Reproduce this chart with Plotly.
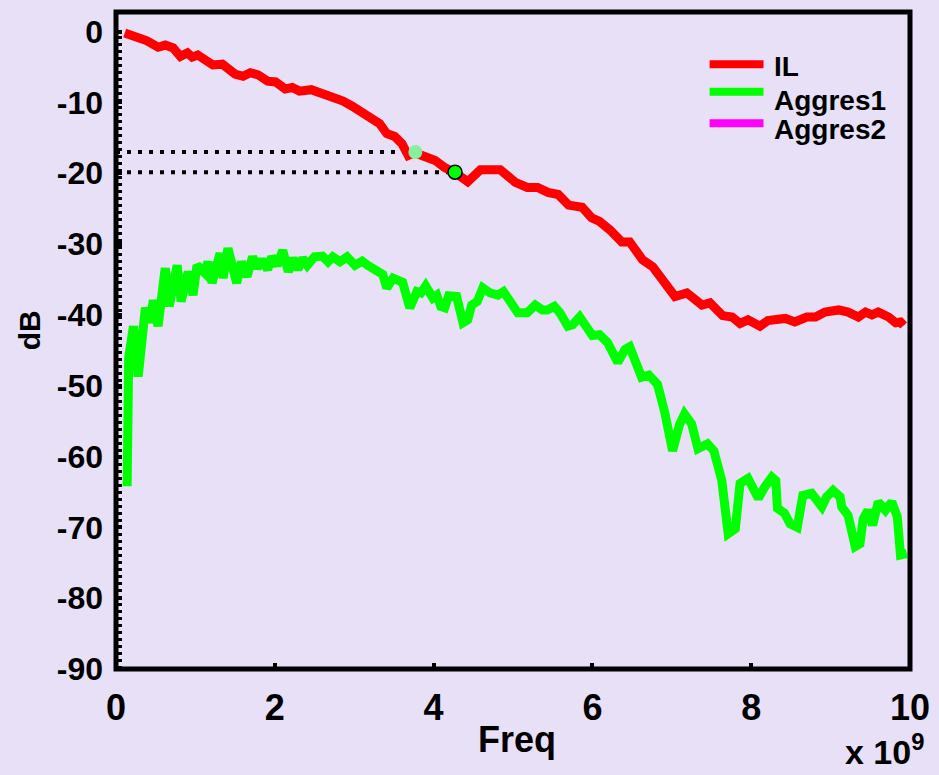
import plotly.graph_objects as go

# ---------------- data (frequency in units of 1e9 Hz, values in dB) ----------------
il_freq = [
    0.11, 0.24, 0.39, 0.53, 0.62, 0.72, 0.81, 0.90, 0.96, 1.03,
    1.12, 1.22, 1.34, 1.41, 1.50, 1.60, 1.69, 1.79, 1.91, 2.01,
    2.13, 2.22, 2.31, 2.46, 2.57, 2.72, 2.86, 2.97, 3.10, 3.22,
    3.32, 3.41, 3.51, 3.60, 3.68, 3.76, 3.87, 4.02, 4.14, 4.27,
    4.43, 4.59, 4.84, 5.03, 5.18, 5.31, 5.44, 5.57, 5.70, 5.87,
    5.99, 6.09, 6.22, 6.37, 6.47, 6.63, 6.76, 6.91, 7.04, 7.19,
    7.38, 7.48, 7.64, 7.76, 7.86, 7.96, 8.11, 8.21, 8.34, 8.43,
    8.55, 8.70, 8.81, 8.93, 9.10, 9.22, 9.35, 9.44, 9.52, 9.60,
    9.73, 9.82, 9.88, 9.92,
]
il_db = [
    -0.2, -0.6, -1.3, -2.2, -1.9, -2.3, -3.5, -3.0, -3.6, -3.3,
    -3.9, -4.7, -4.6, -5.1, -6.0, -6.3, -5.8, -6.1, -7.0, -7.1,
    -8.1, -7.9, -8.4, -8.2, -8.6, -9.4, -9.8, -10.5, -11.5, -12.5,
    -13.0, -14.4, -14.8, -15.8, -17.5, -17.1, -17.5, -18.2, -19.2, -19.9,
    -21.2, -19.5, -19.5, -21.3, -22.0, -22.0, -22.7, -23.0, -24.5, -24.8,
    -26.3, -26.8, -28.0, -29.7, -29.7, -32.2, -33.2, -35.7, -37.4, -36.9,
    -38.6, -38.3, -40.1, -40.3, -41.2, -40.7, -41.6, -40.8, -40.8, -40.5,
    -41.0, -40.3, -40.3, -39.6, -39.3, -39.6, -40.3, -39.6, -40.0, -39.6,
    -40.3, -41.1, -41.0, -41.5,
]

ag1_freq = [
    0.14, 0.16, 0.22, 0.28, 0.37, 0.43, 0.47, 0.53, 0.62, 0.67,
    0.77, 0.82, 0.91, 0.97, 1.02, 1.12, 1.16, 1.21, 1.31, 1.35,
    1.41, 1.52, 1.58, 1.65, 1.72, 1.78, 1.84, 1.91, 1.96, 2.03,
    2.10, 2.17, 2.23, 2.29, 2.35, 2.41, 2.50, 2.60, 2.67, 2.73,
    2.82, 2.91, 3.01, 3.10, 3.17, 3.30, 3.36, 3.41, 3.49, 3.61,
    3.70, 3.79, 3.84, 3.90, 3.99, 4.04, 4.09, 4.14, 4.19, 4.29,
    4.37, 4.43, 4.48, 4.55, 4.62, 4.71, 4.81, 4.88, 4.96, 5.06,
    5.18, 5.28, 5.37, 5.43, 5.52, 5.59, 5.69, 5.75, 5.84, 5.93,
    6.00, 6.09, 6.19, 6.32, 6.41, 6.47, 6.53, 6.62, 6.71,
    6.82, 6.91, 7.01, 7.10, 7.16, 7.25, 7.33, 7.45, 7.53, 7.63,
    7.71, 7.80, 7.86, 7.96, 8.09, 8.17, 8.26, 8.31, 8.33, 8.42,
    8.49, 8.58, 8.65, 8.76, 8.89, 8.95, 9.03, 9.12, 9.14, 9.22,
    9.31, 9.37, 9.41, 9.47, 9.53, 9.60, 9.69, 9.77, 9.84, 9.88,
    9.96,
]
ag1_db = [
    -64.2, -46.0, -41.6, -48.7, -39.0, -41.1, -37.9, -41.6, -33.4, -38.8,
    -33.0, -38.1, -33.9, -37.2, -33.0, -34.1, -32.5, -35.5, -31.3, -34.8,
    -30.6, -35.5, -32.5, -34.6, -31.8, -33.4, -32.2, -33.6, -31.8, -33.0,
    -30.9, -33.9, -32.0, -33.6, -32.0, -33.0, -31.8, -31.7, -32.5, -31.8,
    -32.5, -31.8, -33.0, -32.4, -33.0, -33.9, -34.3, -36.2, -34.8, -35.4,
    -39.0, -36.7, -36.9, -35.9, -37.6, -37.2, -38.8, -39.0, -37.3, -37.4,
    -41.1, -40.7, -38.6, -38.1, -36.2, -36.9, -37.2, -36.7, -38.1, -39.7,
    -39.7, -38.6, -39.3, -39.3, -38.8, -39.7, -41.6, -41.4, -40.3, -41.6,
    -42.9, -42.8, -43.9, -46.7, -44.9, -44.5, -46.3, -48.8, -48.5,
    -49.8, -53.7, -59.2, -55.4, -54.0, -55.4, -58.9, -58.2, -59.2, -63.4,
    -70.9, -70.2, -63.8, -63.1, -65.9, -64.3, -62.9, -63.4, -67.3, -68.0,
    -69.5, -70.0, -65.5, -65.2, -67.1, -65.7, -64.8, -65.7, -67.1, -68.3,
    -72.7, -72.3, -68.8, -67.6, -69.7, -66.4, -67.6, -66.4, -68.5, -73.9,
    -73.7,
]

ag2_freq = []
ag2_db = []

series_names = ["IL", "Aggres1", "Aggres2"]
series_colors = ["#ff0000", "#00ff00", "#ff00ff"]

# marker / cursor points
cursor_freq = [3.77, 4.27]
cursor_db = [-17.0, -19.85]

x_ticks = [0, 2, 4, 6, 8, 10]
y_ticks = [0, -10, -20, -30, -40, -50, -60, -70, -80, -90]
x_range = [0, 10]
y_range = [-90, 2.77]

x_title = "Freq"
y_title = "dB"
x_exponent = "x 10<sup>9</sup>"

# ---------------- figure ----------------
BG = "#E7E0F7"
FONT = "Liberation Sans"

fig = go.Figure()

# dotted helper lines
for cf, cd in zip(cursor_freq, cursor_db):
    fig.add_trace(go.Scatter(x=[x_range[0], cf], y=[cd, cd], mode="lines",
                             line=dict(color="black", width=4, dash="4px,7px"),
                             showlegend=False, hoverinfo="skip"))
fig.add_trace(go.Scatter(x=[0.05, 0.05], y=[y_ticks[-1], y_ticks[0]], mode="lines",
                         line=dict(color="black", width=4, dash="3px,4px"),
                         showlegend=False, hoverinfo="skip"))

fig.add_trace(go.Scatter(x=il_freq, y=il_db, mode="lines", name=series_names[0],
                         line=dict(color=series_colors[0], width=9), showlegend=False))
fig.add_trace(go.Scatter(x=ag1_freq, y=ag1_db, mode="lines", name=series_names[1],
                         line=dict(color=series_colors[1], width=9), showlegend=False))
fig.add_trace(go.Scatter(x=ag2_freq, y=ag2_db, mode="lines", name=series_names[2],
                         line=dict(color=series_colors[2], width=9), showlegend=False))

fig.add_trace(go.Scatter(x=[cursor_freq[0]], y=[cursor_db[0]], mode="markers",
                         marker=dict(size=14, color="#86F09A", line=dict(width=0)),
                         showlegend=False))
fig.add_trace(go.Scatter(x=[cursor_freq[1]], y=[cursor_db[1]], mode="markers",
                         marker=dict(size=14, color="#00ff00", line=dict(width=1.5, color="black")),
                         showlegend=False))

# manual legend
leg_y_line = [0.9205, 0.8788, 0.8307]
leg_y_text = [0.9168, 0.866, 0.8204]
shapes = []
annotations = []
for name, col, yl, yt in zip(series_names, series_colors, leg_y_line, leg_y_text):
    shapes.append(dict(type="line", xref="paper", yref="paper", x0=0.7476, x1=0.8155,
                       y0=yl, y1=yl, line=dict(color=col, width=8)))
    annotations.append(dict(xref="paper", yref="paper", x=0.826, y=yt, text=name,
                            showarrow=False, xanchor="left", yanchor="middle",
                            font=dict(family=FONT, size=28, color="black", weight="bold")))

# frame
shapes.append(dict(type="rect", xref="paper", yref="paper", x0=0, x1=1, y0=0, y1=1,
                   line=dict(color="black", width=5), layer="above"))

annotations.append(dict(xref="paper", yref="paper", x=0.505, y=-0.108, text=x_title,
                        showarrow=False, xanchor="center", yanchor="middle",
                        font=dict(family=FONT, size=36, color="black", weight="bold")))
annotations.append(dict(xref="paper", yref="paper", x=-0.108, y=0.516, text=y_title,
                        showarrow=False, xanchor="center", yanchor="middle", textangle=-90,
                        font=dict(family=FONT, size=30, color="black", weight="bold")))
annotations.append(dict(xref="paper", yref="paper", x=1.02, y=-0.158, text=x_exponent,
                        showarrow=False, xanchor="right", yanchor="bottom",
                        font=dict(family=FONT, size=34, color="black", weight="bold")))

fig.update_layout(
    width=939, height=775,
    margin=dict(l=116, r=29, t=12, b=106, autoexpand=False),
    paper_bgcolor=BG, plot_bgcolor=BG,
    showlegend=False,
    shapes=shapes, annotations=annotations,
)
fig.update_xaxes(range=x_range, tickvals=x_ticks, ticktext=[str(v) for v in x_ticks],
                 showgrid=False, zeroline=False, showline=False, automargin=False,
                 ticks="inside", ticklen=6, tickwidth=4, tickcolor="black",
                 ticklabelstandoff=14,
                 tickfont=dict(family=FONT, size=36, color="black", weight="bold"))
fig.update_yaxes(range=y_range, tickvals=y_ticks, ticktext=[str(v) for v in y_ticks],
                 showgrid=False, zeroline=False, showline=False, automargin=False,
                 ticks="inside", ticklen=6, tickwidth=4, tickcolor="black",
                 ticklabelstandoff=12,
                 tickfont=dict(family=FONT, size=32, color="black", weight="bold"))

fig.write_html(
    "out.html",
    config={"displayModeBar": False},
    post_script="document.body.style.margin='0';document.body.style.background='" + BG + "';",
)
